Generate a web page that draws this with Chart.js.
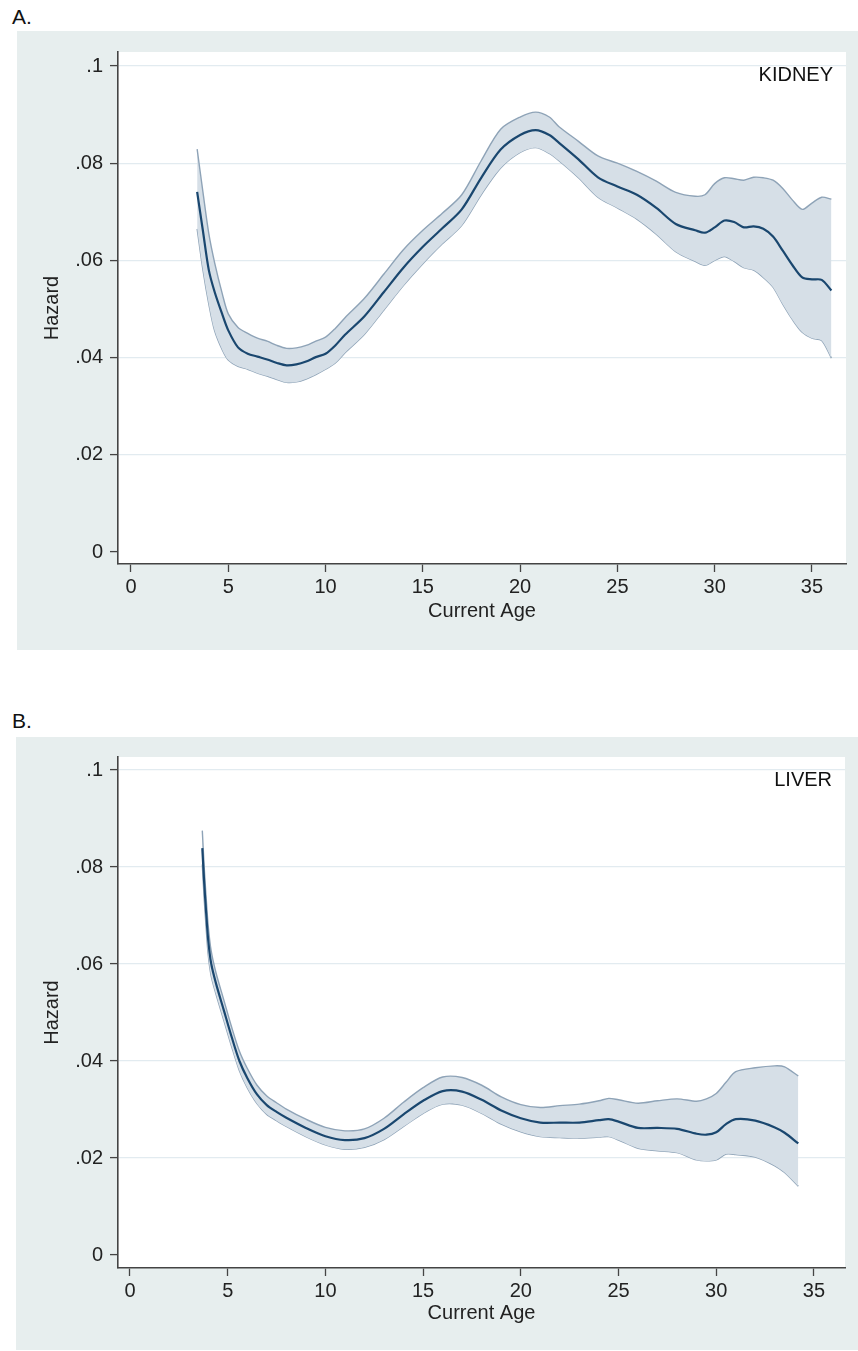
<!DOCTYPE html>
<html>
<head>
<meta charset="utf-8">
<script src="https://cdn.jsdelivr.net/npm/chart.js@4.4.1/dist/chart.umd.min.js"></script>
<style>
  body { margin: 0; width: 858px; height: 1351px; background: #fff; position: relative; overflow: hidden;
         font-family: "Liberation Sans", Arial, sans-serif; }
  .tag { position: absolute; font-size: 21px; color: #111; line-height: 24px; }
  .panel { position: absolute; background: #e7eeee; }
  canvas { display: block; }
</style>
</head>
<body>
<div class="tag" style="left:12px;top:5px">A.</div>
<div class="panel" style="left:17px;top:31px;width:841px;height:619px"><canvas id="kidney" width="841" height="619"></canvas></div>
<div class="tag" style="left:12px;top:709px">B.</div>
<div class="panel" style="left:16px;top:737px;width:842px;height:613px"><canvas id="liver" width="842" height="613"></canvas></div>

<script>
// ---- data ----
const kidneyAge = [3.4, 3.7, 4.0, 4.3, 4.7, 5.0, 5.5, 6.0, 6.5, 7.0, 7.5, 8.0, 8.5, 9.0, 9.5, 10.0, 10.5, 11.0,
  12.0, 13.0, 14.0, 15.0, 16.0, 17.0, 18.0, 19.0, 20.0, 20.8, 21.5, 22.0, 23.0, 24.0, 25.0, 26.0, 27.0, 28.0,
  29.0, 29.5, 30.0, 30.5, 31.0, 31.5, 32.0, 32.5, 33.0, 33.5, 34.0, 34.5, 35.0, 35.5, 36.0];
const kidneyHazard = [.0741, .0660, .0580, .0535, .0488, .0456, .0421, .0408, .0402, .0396, .0389, .0384, .0386,
  .0392, .0401, .0408, .0425, .0447, .0485, .0535, .0585, .0628, .0666, .0705, .0770, .0828, .0858, .0868, .0858,
  .0842, .0808, .0771, .0752, .0735, .0708, .0675, .0662, .0657, .0668, .0682, .0679, .0668, .0670, .0665, .0649,
  .0620, .0590, .0565, .0561, .0560, .0538];
const kidneyUpper = [.0829, .0740, .0655, .0595, .0530, .0490, .0462, .0450, .0440, .0434, .0425, .0419, .0420,
  .0425, .0434, .0442, .0460, .0482, .0522, .0572, .0622, .0662, .0697, .0735, .0805, .0870, .0895, .0905, .0895,
  .0875, .0845, .0815, .0800, .0783, .0763, .0740, .0732, .0735, .0758, .0770, .0768, .0765, .0771, .0770, .0765,
  .0748, .0724, .0705, .0718, .0730, .0726];
const kidneyLower = [.0665, .0580, .0510, .0455, .0415, .0395, .0382, .0376, .0368, .0362, .0355, .0349, .0350,
  .0356, .0365, .0376, .0389, .0410, .0448, .0498, .0548, .0593, .0634, .0672, .0735, .0790, .0822, .0832, .0820,
  .0805, .0770, .0730, .0708, .0685, .0654, .0618, .0598, .0590, .0600, .0608, .0598, .0585, .0580, .0565, .0545,
  .0510, .0478, .0452, .0440, .0435, .0399];

const liverAge = [3.7, 3.8, 3.9, 4.0, 4.15, 4.4, 4.8, 5.2, 5.6, 6.0, 6.5, 7.0, 7.5, 8.0, 9.0, 10.0, 11.0, 12.0,
  13.0, 14.0, 15.0, 16.0, 17.0, 18.0, 19.0, 20.0, 21.0, 22.0, 23.0, 24.0, 24.5, 25.0, 26.0, 27.0, 28.0, 29.0,
  29.5, 30.0, 30.5, 31.0, 32.0, 33.0, 33.5, 34.2];
const liverHazard = [.0839, .0765, .0704, .0650, .0602, .0560, .0505, .0450, .0400, .0365, .0331, .0309, .0295,
  .0283, .0262, .0245, .0237, .0241, .0260, .0290, .0318, .0338, .0337, .0320, .0298, .0282, .0273, .0273, .0273,
  .0278, .0280, .0275, .0262, .0262, .0260, .0250, .0248, .0253, .0270, .0280, .0277, .0263, .0252, .0230];
const liverUpper = [.0875, .0798, .0735, .0680, .0628, .0582, .0526, .0470, .0420, .0385, .0350, .0328, .0314,
  .0301, .0280, .0263, .0256, .0260, .0282, .0315, .0345, .0367, .0366, .0350, .0326, .0310, .0304, .0308, .0311,
  .0318, .0323, .0320, .0313, .0318, .0322, .0317, .0322, .0333, .0356, .0378, .0386, .0390, .0388, .0369];
const liverLower = [.0805, .0732, .0673, .0620, .0576, .0538, .0484, .0430, .0380, .0345, .0312, .0290, .0277,
  .0265, .0244, .0227, .0218, .0222, .0238, .0265, .0292, .0311, .0309, .0292, .0270, .0254, .0244, .0242, .0241,
  .0243, .0244, .0237, .0220, .0215, .0211, .0196, .0194, .0196, .0208, .0207, .0202, .0184, .0170, .0142];

const yTickValues = [0, .02, .04, .06, .08, .1];
const yTickLabels = ['0', '.02', '.04', '.06', '.08', '.1'];
const xTickValues = [0, 5, 10, 15, 20, 25, 30, 35];

// ---- styling ----
const font = { family: '"Liberation Sans", Arial, sans-serif', size: 20 };
const textColor = '#222';
const axisColor = '#444';
const gridColor = '#e2ebf0';
const bandFill = '#d6dfe7';
const bandEdge = '#8ea3b7';
const lineColor = '#1a476f';

// white plot region
const plotBackground = {
  id: 'plotBackground',
  beforeDraw(chart) {
    const a = chart.chartArea, ctx = chart.ctx;
    ctx.save();
    ctx.fillStyle = '#fff';
    ctx.fillRect(a.left, a.top, a.right - a.left, a.bottom - a.top);
    ctx.restore();
  }
};

// KIDNEY / LIVER tag in the upper right corner of the plot
const cornerLabel = {
  id: 'cornerLabel',
  afterDraw(chart, args, opts) {
    const a = chart.chartArea, ctx = chart.ctx;
    ctx.save();
    ctx.font = '20px "Liberation Sans", Arial, sans-serif';
    ctx.fillStyle = '#111';
    ctx.textAlign = 'right';
    ctx.textBaseline = 'middle';
    ctx.fillText(opts.text, a.right - 13, a.top + 23);
    ctx.restore();
  }
};

function pts(xs, ys) {
  return xs.map((x, i) => ({ x: x, y: ys[i] }));
}

function makeChart(id, o) {
  new Chart(document.getElementById(id), {
    type: 'line',
    data: {
      // lower index is drawn on top: hazard line, then the band
      datasets: [
        { data: pts(o.age, o.hazard), borderColor: lineColor, borderWidth: 2.2, pointRadius: 0, fill: false, tension: 0.3 },
        { data: pts(o.age, o.upper), borderColor: bandEdge, borderWidth: 1.4, pointRadius: 0, fill: '+1',
          backgroundColor: bandFill, tension: 0.3 },
        { data: pts(o.age, o.lower), borderColor: bandEdge, borderWidth: 1.4, pointRadius: 0, fill: false, tension: 0.3 }
      ]
    },
    options: {
      responsive: false,
      animation: false,
      devicePixelRatio: 1,
      layout: { padding: { top: o.padTop, right: o.padRight, left: 0, bottom: 0 } },
      plugins: {
        legend: { display: false },
        tooltip: { enabled: false },
        cornerLabel: { text: o.name }
      },
      scales: {
        x: {
          type: 'linear',
          min: o.xMin,
          max: o.xMax,
          afterBuildTicks: s => { s.ticks = xTickValues.map(v => ({ value: v })); },
          afterFit: s => { s.height = o.xAxisHeight; },
          grid: { drawOnChartArea: false, drawTicks: true, tickLength: 8, tickColor: axisColor, tickWidth: 1.3 },
          border: { display: true, color: axisColor, width: 1.6 },
          ticks: { font: font, color: textColor, padding: 3, autoSkip: false, maxRotation: 0, callback: v => String(v) },
          title: { display: true, text: 'Current Age', font: font, color: textColor, padding: { top: 0, bottom: o.xTitlePad } }
        },
        y: {
          min: o.yMin,
          max: o.yMax,
          afterBuildTicks: s => { s.ticks = yTickValues.map(v => ({ value: v })); },
          afterFit: s => { s.width = o.yAxisWidth; },
          grid: {
            color: c => (c.tick && c.tick.value === 0) ? 'rgba(0,0,0,0)' : gridColor,
            lineWidth: 1.2,
            drawTicks: true, tickLength: 8, tickColor: axisColor, tickWidth: 1.3
          },
          border: { display: true, color: axisColor, width: 1.6 },
          ticks: { font: font, color: textColor, padding: 7, autoSkip: false, callback: (v, i) => yTickLabels[i] },
          title: { display: true, text: 'Hazard', font: font, color: textColor, padding: { top: o.yTitlePad, bottom: 0 } }
        }
      }
    },
    plugins: [plotBackground, cornerLabel]
  });
}

makeChart('kidney', {
  name: 'KIDNEY', age: kidneyAge, hazard: kidneyHazard, upper: kidneyUpper, lower: kidneyLower,
  xMin: -0.668, xMax: 36.75, yMin: -0.00247, yMax: 0.10288,
  padTop: 21, padRight: 12, yAxisWidth: 101, xAxisHeight: 86, xTitlePad: 27, yTitlePad: 23
});

makeChart('liver', {
  name: 'LIVER', age: liverAge, hazard: liverHazard, upper: liverUpper, lower: liverLower,
  xMin: -0.614, xMax: 36.59, yMin: -0.00268, yMax: 0.10268,
  padTop: 20, padRight: 13, yAxisWidth: 102, xAxisHeight: 82, xTitlePad: 25, yTitlePad: 24
});
</script>
</body>
</html>
